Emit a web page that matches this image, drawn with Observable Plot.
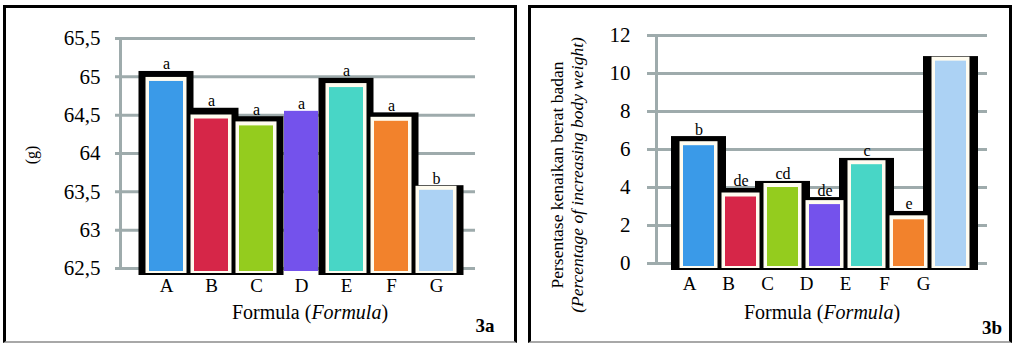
<!DOCTYPE html>
<html>
<head>
<meta charset="utf-8">
<script src="https://cdn.jsdelivr.net/npm/d3@7"></script>
<script src="https://cdn.jsdelivr.net/npm/@observablehq/plot@0.6"></script>
<style>
  html, body { margin: 0; padding: 0; background: #fff; }
  #root { position: relative; width: 1014px; height: 343px; overflow: hidden; font-family: "Liberation Serif", Tinos, "Times New Roman", "DejaVu Serif", serif; }
  .panel { position: absolute; box-sizing: border-box; border: 3px solid #000; border-bottom: 2px solid #a8a8a8; background: #fff; }
  .panel svg { position: absolute; left: 0; top: 0; overflow: visible; }
  .txt { position: absolute; transform: translate(-50%, -50%); white-space: nowrap; color: #000; }
  .rot { position: absolute; transform: translate(-50%, -50%) rotate(-90deg); white-space: nowrap; text-align: center; color: #000; }
</style>
</head>
<body>
<div id="root">
  <div class="panel" id="p1" style="left:3px; top:5px; width:514px; height:338px;">
    <div class="rot" style="left:26px; top:147px; font-size:16px;">(g)</div>
    <div class="txt" style="left:304px; top:304px; font-size:20px;">Formula (<i>Formula</i>)</div>
    <div class="txt" style="left:479px; top:318px; font-size:19px; font-weight:bold;">3a</div>
  </div>
  <div class="panel" id="p2" style="left:528px; top:5px; width:484px; height:338px;">
    <div class="rot" style="left:36px; top:167px; font-size:17.5px; line-height:20px;">Persentase kenaikan berat badan<br><i>(Percentage of increasing body weight)</i></div>
    <div class="txt" style="left:291px; top:304px; font-size:20px;">Formula (<i>Formula</i>)</div>
    <div class="txt" style="left:461px; top:320px; font-size:19px; font-weight:bold;">3b</div>
  </div>
</div>
<script>
// ---- data ----
const cats = ["A", "B", "C", "D", "E", "F", "G"];
const colors = ["#3a9ae8", "#d62648", "#94cc1e", "#7452ec", "#48d6c6", "#f2822c", "#acd2f4"];

// 3a: body weight (g)
const weight = [64.94, 64.45, 64.36, 64.55, 64.86, 64.42, 63.52];
const weightShadow = [65.07, 64.59, 64.48, null, 64.98, 64.53, 63.58];
const weightLetters = ["a", "a", "a", "a", "a", "a", "b"];
const weightTicks = [62.5, 63, 63.5, 64, 64.5, 65, 65.5];

// 3b: percentage of increasing body weight
const gain = [6.2, 3.5, 4.0, 3.1, 5.2, 2.3, 10.65];
const gainShadow = [6.68, 3.95, 4.32, 3.47, 5.53, 2.74, 10.89];
const gainLetters = ["b", "de", "cd", "de", "c", "e", ""];
const gainTicks = [0, 2, 4, 6, 8, 10, 12];

const FONT = '"Liberation Serif", Tinos, "Times New Roman", "DejaVu Serif", serif';
const GRID = "#9eabac";

function panelPlot(cfg) {
  const rows = cats.map((c, i) => ({cat: c, v: cfg.values[i], s: cfg.shadow[i], l: cfg.letters[i]}));
  const y0 = cfg.ticks[0];
  const y1 = cfg.ticks[cfg.ticks.length - 1];
  return Plot.plot({
    width: cfg.width, height: cfg.height,
    marginLeft: cfg.ml, marginRight: cfg.mr, marginTop: cfg.mt, marginBottom: cfg.mb,
    style: {fontFamily: FONT, fontSize: "21px", background: "transparent", color: "#000", overflow: "visible"},
    x: {type: "band", domain: cats, paddingInner: cfg.pad, paddingOuter: cfg.pad / 2, axis: null},
    y: {domain: [y0, y1], axis: null},
    color: {domain: cats, range: colors},
    marks: [
      Plot.ruleY(cfg.ticks, {stroke: GRID, strokeWidth: 3, insetLeft: cfg.gridL, insetRight: cfg.gridR}),
      Plot.frame({anchor: "left", stroke: GRID, strokeWidth: 3, insetLeft: cfg.axisL}),
      Plot.rectY(rows.filter(d => d.s != null), {x: "cat", y1: () => y0, y2: "s", fill: "#000",
        insetLeft: cfg.shIn, insetRight: cfg.shIn, insetBottom: -7}),
      Plot.rectY(rows.filter(d => d.s != null), {x: "cat", y1: () => y0, y2: "v", fill: "#fffcf0",
        insetLeft: -3.5, insetRight: -3.5, insetTop: -4, insetBottom: -5}),
      Plot.rectY(rows, {x: "cat", y1: () => y0, y2: "v", fill: "cat", insetBottom: -3}),
      Plot.text(rows, {x: "cat", y: d => (d.s != null ? d.s : d.v), text: "l", lineAnchor: "bottom", dy: -2,
        fontSize: 16, fill: "#000"}),
      Plot.axisY(cfg.ticks, {tickSize: 0, tickPadding: cfg.tp, fontSize: 21, label: null,
        tickFormat: d => String(d).replace(".", ",")}),
      ...(cfg.xAxis ? [Plot.axisX({tickSize: 0, tickPadding: 10, fontSize: 19, label: null})] : [])
    ]
  });
}

const p1 = panelPlot({
  values: weight, shadow: weightShadow, letters: weightLetters, ticks: weightTicks,
  width: 508, height: 333, ml: 136, mr: 54, mt: 30, mb: 73,
  pad: 0.25, gridL: -27, gridR: -15, axisL: -22, shIn: -10.5, tp: 42, xAxis: true
});
document.getElementById("p1").appendChild(p1);

const p2 = panelPlot({
  values: gain, shadow: gainShadow, letters: gainLetters, ticks: gainTicks,
  width: 478, height: 333, ml: 144, mr: 36, mt: 27, mb: 78,
  pad: 0.27, gridL: -28, gridR: -14, axisL: -19, shIn: -12, tp: 45, xAxis: false
});
document.getElementById("p2").appendChild(p2);

// x tick labels of 3b sit on their own slightly narrower band scale
const p2x = Plot.plot({
  width: 478, height: 333, marginLeft: 136, marginRight: 64, marginTop: 27, marginBottom: 78,
  style: {fontFamily: FONT, fontSize: "19px", background: "transparent", color: "#000", overflow: "visible"},
  x: {type: "band", domain: cats, paddingInner: 0.27, paddingOuter: 0.135},
  marks: [Plot.axisX({tickSize: 0, tickPadding: 13, fontSize: 19, label: null})]
});
document.getElementById("p2").appendChild(p2x);
</script>
</body>
</html>
